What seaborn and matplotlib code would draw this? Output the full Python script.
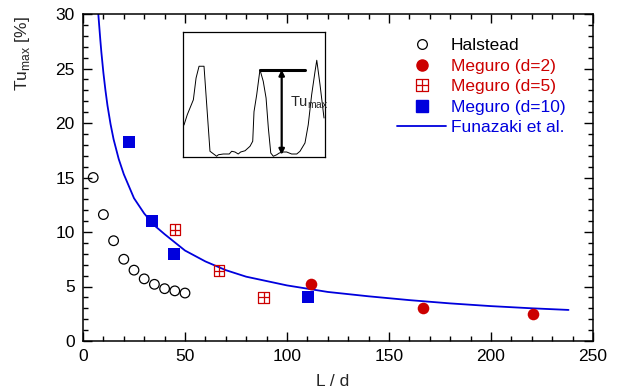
import numpy as np
import pandas as pd
import matplotlib
matplotlib.use("Agg")
import matplotlib.pyplot as plt
from matplotlib.path import Path
from matplotlib.lines import Line2D
from matplotlib.ticker import MultipleLocator
import seaborn as sns

# ---------------- data ----------------
halstead_x = [5, 10, 15, 20, 25, 30, 35, 40, 45, 50]
halstead_y = [15.0, 11.6, 9.2, 7.5, 6.5, 5.7, 5.2, 4.8, 4.6, 4.4]

meguro2_x = [111.8, 166.8, 220.6]
meguro2_y = [5.2, 3.0, 2.5]

meguro5_x = [45.1, 66.7, 88.6]
meguro5_y = [10.2, 6.45, 4.0]

meguro10_x = [22.5, 33.6, 44.6, 110.4]
meguro10_y = [18.3, 11.0, 8.0, 4.0]

funazaki_x = [7.5, 8.0, 8.5, 9.0, 10, 11, 12, 13.5, 15, 17.5, 20, 25, 30, 35,
              40, 50, 60, 70, 80, 100, 120, 140, 160, 180, 200, 220, 238]
funazaki_y = [30.0, 28.8, 27.6, 26.5, 24.6, 23.0, 21.6, 19.9, 18.5, 16.7,
              15.3, 13.1, 11.7, 10.6, 9.8, 8.3, 7.3, 6.5, 5.9, 5.1, 4.5,
              4.1, 3.75, 3.45, 3.2, 3.0, 2.85]

# inset waveform (normalised time 0-100, signal 0-100)
wave_t = [0.7, 3.0, 7.3, 9.2, 11.3, 14.8, 16.7, 19.0, 23.7, 24.9, 28.4, 32.6,
          34.3, 36.6, 38.9, 40.6, 43.7, 47.2, 49.1, 50.0, 51.9, 54.2, 56.5,
          58.5, 60.1, 61.8, 63.6, 66.0, 67.8, 70.6, 73.0, 76.5, 80.1, 82.4,
          85.9, 88.2, 90.6, 93.0, 94.2, 96.5, 99.3]
wave_s = [25.6, 33.8, 45.8, 63.2, 72.6, 72.6, 41.8, 4.6, 0.6, 1.8, 2.4, 2.4,
          4.6, 4.0, 2.4, 4.0, 5.0, 8.6, 12.6, 36.2, 49.8, 69.8, 60.6, 47.2,
          23.2, 3.2, 0.6, 1.8, 3.2, 4.0, 4.0, 2.4, 2.4, 4.6, 11.2, 25.8, 49.8,
          68.6, 77.4, 57.8, 31.2]

x_ticks = [0, 50, 100, 150, 200, 250]
y_ticks = [0, 5, 10, 15, 20, 25, 30]

RED = "#cc0000"
BLUE = "#0000dd"
FS = 12.5

# ---------------- style ----------------
sns.set_theme(style="ticks")
plt.rcParams["font.family"] = ["Liberation Sans", "DejaVu Sans"]
plt.rcParams["axes.linewidth"] = 1.1

fig = plt.figure(figsize=(6.19, 3.92), dpi=100)
ax = fig.add_axes([83 / 619, 1 - 341 / 392, 510 / 619, 327 / 392])

# grid-square marker
grid_marker = Path(
    [(-1, -1), (1, -1), (1, 1), (-1, 1), (-1, -1),
     (0, -1), (0, 1), (-1, 0), (1, 0)],
    [Path.MOVETO, Path.LINETO, Path.LINETO, Path.LINETO, Path.CLOSEPOLY,
     Path.MOVETO, Path.LINETO, Path.MOVETO, Path.LINETO])

df_fun = pd.DataFrame({"x": funazaki_x, "y": funazaki_y})
sns.lineplot(data=df_fun, x="x", y="y", ax=ax, color=BLUE, lw=1.3,
             sort=False, estimator=None)

df_h = pd.DataFrame({"x": halstead_x, "y": halstead_y})
sns.scatterplot(data=df_h, x="x", y="y", ax=ax, marker="o", s=48,
                facecolor="none", edgecolor="black", linewidth=0.9, zorder=5)

df_m2 = pd.DataFrame({"x": meguro2_x, "y": meguro2_y})
sns.scatterplot(data=df_m2, x="x", y="y", ax=ax, marker="o", s=70,
                color=RED, edgecolor=RED, linewidth=0, zorder=5)

df_m5 = pd.DataFrame({"x": meguro5_x, "y": meguro5_y})
sns.scatterplot(data=df_m5, x="x", y="y", ax=ax, marker=grid_marker, s=60,
                facecolor="none", edgecolor=RED, linewidth=0.9, zorder=5)

df_m10 = pd.DataFrame({"x": meguro10_x, "y": meguro10_y})
sns.scatterplot(data=df_m10, x="x", y="y", ax=ax, marker="s", s=80,
                color=BLUE, edgecolor=BLUE, linewidth=0, zorder=5)

ax.set_xlim(0, 250)
ax.set_ylim(0, 30)
ax.set_xticks(x_ticks)
ax.set_yticks(y_ticks)
ax.xaxis.set_minor_locator(MultipleLocator(10))
ax.yaxis.set_minor_locator(MultipleLocator(1))
ax.tick_params(which="both", direction="in", top=True, right=True,
               colors="black", labelsize=FS, width=1.0)
ax.tick_params(which="major", length=6.5, pad=6)
ax.tick_params(which="minor", length=3.5)
for sp in ax.spines.values():
    sp.set_visible(True)
    sp.set_color("black")
    sp.set_linewidth(1.1)

ax.set_xlabel("L / d", fontsize=FS)
ax.xaxis.set_label_coords(0.49, -0.10)
ax.set_ylabel(r"Tu$_{\mathregular{max}}$ [%]", fontsize=FS)
ax.yaxis.set_label_coords(-0.10, 0.878)

# legend
handles = [
    Line2D([], [], ls="none", marker="o", ms=7, mfc="none", mec="black", mew=0.9),
    Line2D([], [], ls="none", marker="o", ms=8, mfc=RED, mec=RED),
    Line2D([], [], ls="none", marker=grid_marker, ms=8, mfc="none", mec=RED, mew=0.9),
    Line2D([], [], ls="none", marker="s", ms=8.5, mfc=BLUE, mec=BLUE),
    Line2D([], [], color=BLUE, lw=1.3),
]
labels = ["Halstead", "Meguro (d=2)", "Meguro (d=5)", "Meguro (d=10)", "Funazaki et al."]
leg = ax.legend(handles, labels, loc="upper left", frameon=False,
                bbox_to_anchor=(397 / 619, 1 - 38 / 392),
                bbox_transform=fig.transFigure, borderpad=0, borderaxespad=0,
                handlelength=2.85, handletextpad=0.25, labelspacing=0.31,
                fontsize=FS,
                labelcolor=["black", RED, RED, BLUE, BLUE])

# inset
ins = fig.add_axes([183 / 619, 1 - 157 / 392, 142 / 619, 125 / 392])
df_w = pd.DataFrame({"t": wave_t, "s": wave_s})
sns.lineplot(data=df_w, x="t", y="s", ax=ins, color="black", lw=0.7,
             sort=False, estimator=None)
ins.set_xlim(0, 100)
ins.set_ylim(0, 100)
ins.set_xticks([])
ins.set_yticks([])
ins.set_xlabel("")
ins.set_ylabel("")
for sp in ins.spines.values():
    sp.set_visible(True)
    sp.set_color("black")
    sp.set_linewidth(0.9)
ins.plot([54.2, 85.9], [69.8, 69.8], color="black", lw=2.2)
ins.annotate("", xy=(69.5, 1.8), xytext=(69.5, 69.8),
             arrowprops=dict(arrowstyle="<|-|>", color="black", lw=1.6,
                             mutation_scale=8, shrinkA=0, shrinkB=0))
ins.text(75.5, 43.2, r"Tu$_{\mathregular{max}}$", fontsize=10.5, ha="left", va="center")

fig.savefig("out.png", dpi=100)
